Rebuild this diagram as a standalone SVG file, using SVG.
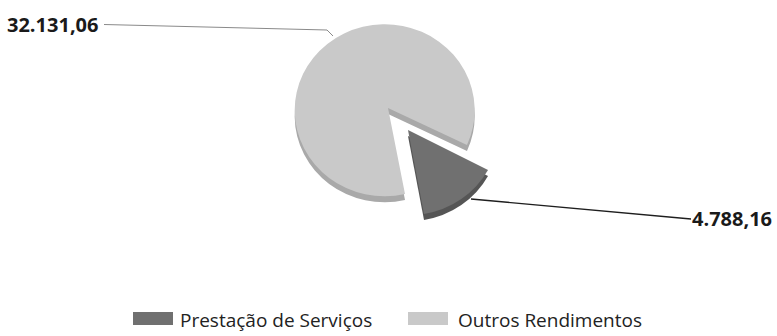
<svg xmlns="http://www.w3.org/2000/svg" width="777" height="336" viewBox="0 0 777 336">
<style>
.lbl{font-family:"Open Sans","Liberation Sans",sans-serif;font-weight:bold;font-size:20px;fill:#1a1a1a}
.leg{font-family:"Open Sans","Liberation Sans",sans-serif;font-size:19px;fill:#222}
.lt{fill:#c9c9c9}
.lts{fill:#a9a9a9}
.dk{fill:#707070}
.dks{fill:#555555}
</style>
<rect width="777" height="336" fill="#ffffff"/>
<g id="slice-outros">
<path class="lts" d="M388,114 L467,151 A90,86 0 1 0 405,200 Z"/>
<path class="lt" d="M388,108 L467,145 A90,86 0 1 0 405,194 Z"/>
</g>
<g id="slice-prestacao">
<path class="dks" d="M408,136 L488,176 A90,86 0 0 1 424,220 Z"/>
<path class="dk" d="M408,130 L488,170 A90,86 0 0 1 424,214 Z"/>
</g>
<g id="connectors" fill="none">
<polyline points="104,24.5 327,30 333,36" stroke="#8a8a8a" stroke-width="1"/>
<polyline points="471,199 691,219" stroke="#1e1e1e" stroke-width="1.4"/>
</g>
<g id="label-outros"><text class="lbl" x="7" y="31.5">32.131,06</text></g>
<g id="label-prestacao"><text class="lbl" x="692" y="226">4.788,16</text></g>
<g id="legend">
<rect x="133" y="312" width="40" height="13" fill="#707070"/>
<text class="leg" x="180" y="327">Prestação de Serviços</text>
<rect x="408" y="312" width="40" height="13" fill="#c9c9c9"/>
<text class="leg" x="458" y="327">Outros Rendimentos</text>
</g>
</svg>
